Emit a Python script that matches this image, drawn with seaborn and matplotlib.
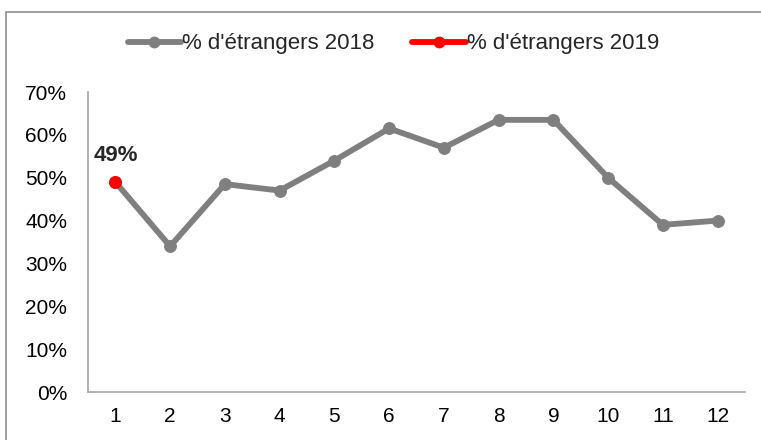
import matplotlib
matplotlib.use("Agg")
import matplotlib.pyplot as plt
import seaborn as sns
import pandas as pd
from matplotlib.patches import Rectangle
from matplotlib.lines import Line2D

# Données
mois = [1, 2, 3, 4, 5, 6, 7, 8, 9, 10, 11, 12]
etrangers_2018 = [0.49, 0.34, 0.485, 0.47, 0.54, 0.615, 0.57, 0.635, 0.635, 0.50, 0.39, 0.40]
mois_2019 = [1]
etrangers_2019 = [0.49]
label_2018 = "% d'étrangers 2018"
label_2019 = "% d'étrangers 2019"

sns.set_style("white")
plt.rcParams['font.family'] = ['Liberation Sans', 'DejaVu Sans']

gris = "#7f7f7f"
rouge = "#ff0000"

fig = plt.figure(figsize=(7.61, 4.4), dpi=100)
ax = fig.add_axes([88 / 761, 48 / 440, (745 - 88) / 761, (392 - 92) / 440])

df18 = pd.DataFrame({'mois': mois, 'val': etrangers_2018})
df19 = pd.DataFrame({'mois': mois_2019, 'val': etrangers_2019})

sns.lineplot(data=df18, x='mois', y='val', ax=ax, color=gris, linewidth=4.2,
             marker='o', markersize=8.5, markeredgecolor=gris, zorder=2)
sns.lineplot(data=df19, x='mois', y='val', ax=ax, color=rouge, linewidth=4.2,
             marker='o', markersize=8.5, markeredgecolor=rouge, zorder=3)

# Étiquette de la valeur 2019
for x, y in zip(mois_2019, etrangers_2019):
    ax.annotate(f"{y:.0%}", (x, y), xytext=(0, 15), textcoords='offset points',
                ha='center', va='baseline', fontsize=16, fontweight='bold')

ax.set_xlim(0.5, 12.5)
ax.set_ylim(0, 0.7)
ax.set_xticks(mois)
ax.set_xticklabels([str(m) for m in mois])
ax.set_yticks([i / 10 for i in range(8)])
ax.set_yticklabels([f"{i * 10}%" for i in range(8)])
ax.tick_params(axis='both', labelsize=15, length=0, colors='#000000')
ax.tick_params(axis='x', pad=11)
ax.tick_params(axis='y', pad=15)
ax.set_xlabel('')
ax.set_ylabel('')

for s in ['top', 'right']:
    ax.spines[s].set_visible(False)
for s in ['left', 'bottom']:
    ax.spines[s].set_color('#a6a6a6')
    ax.spines[s].set_linewidth(1.2)

handles = [
    Line2D([0], [0], color=gris, linewidth=4.2, marker='o', markersize=7.5),
    Line2D([0], [0], color=rouge, linewidth=4.2, marker='o', markersize=7.5),
]
fig.legend(handles, [label_2018, label_2019], loc='center', bbox_to_anchor=(0.517, 1 - 44 / 440),
           ncol=2, frameon=False, fontsize=16, handlelength=2.4, handletextpad=0.05,
           columnspacing=1.7)

# Cadre extérieur
fig.patches.append(Rectangle((6 / 761, -0.05), 1.1, 1 - 12 / 440 + 0.05,
                             transform=fig.transFigure, fill=False,
                             edgecolor='#8c8c8c', linewidth=1.2))

fig.savefig("out.png", dpi=100)
